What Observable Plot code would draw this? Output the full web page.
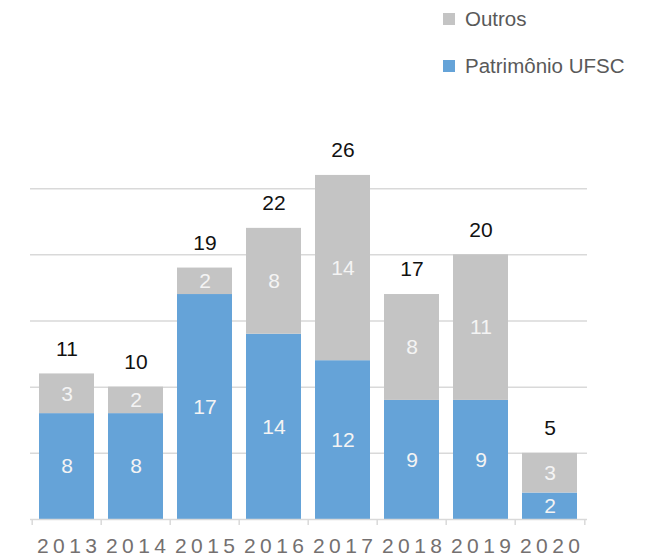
<!DOCTYPE html>
<html>
<head>
<meta charset="utf-8">
<script src="https://cdn.jsdelivr.net/npm/d3@7"></script>
<script src="https://cdn.jsdelivr.net/npm/@observablehq/plot@0.6"></script>
<style>
  html, body { margin: 0; padding: 0; background: #fff; }
  #wrap { position: relative; width: 658px; height: 559px; font-family: "Liberation Sans", Arial, sans-serif; }
  #legend { position: absolute; left: 443px; top: 5px; color: #595959; font-size: 20.5px; }
  .li { display: flex; align-items: center; height: 28px; margin-bottom: 19px; }
  .sw { width: 12px; height: 12px; margin-right: 10px; }
</style>
</head>
<body>
<div id="wrap"><div id="legend"></div></div>
<script>
const years = ["2013", "2014", "2015", "2016", "2017", "2018", "2019", "2020"];
const patrimonio = [8, 8, 17, 14, 12, 9, 9, 2];
const outros = [3, 2, 2, 8, 14, 8, 11, 3];
const seriesNames = ["Patrimônio UFSC", "Outros"];
const seriesColors = ["#65a3d8", "#c4c4c4"];
const gridTicks = [5, 10, 15, 20, 25];

const rows = [];
years.forEach((yr, i) => {
  const vals = [patrimonio[i], outros[i]];
  let base = 0;
  vals.forEach((v, s) => {
    rows.push({year: yr, series: seriesNames[s], value: v, y1: base, y2: base + v, mid: base + v / 2});
    base += v;
  });
});
const totals = years.map((yr, i) => ({year: yr, total: patrimonio[i] + outros[i]}));

const W = 658, H = 559, mL = 30, mR = 71;
const step = (W - mL - mR) / years.length;

const chart = Plot.plot({
  width: W, height: H,
  marginLeft: mL, marginRight: mR, marginTop: 122, marginBottom: 40,
  style: {fontFamily: "Liberation Sans, Arial, sans-serif", background: "#fff"},
  x: {domain: years, paddingInner: 0.2, paddingOuter: 0.1, axis: null},
  y: {domain: [0, 30], axis: null},
  color: {domain: seriesNames, range: seriesColors},
  marks: [
    Plot.ruleY(gridTicks, {stroke: "#d9d9d9", strokeWidth: 1.5}),
    Plot.barY(rows, {x: "year", y1: "y1", y2: "y2", fill: "series"}),
    Plot.ruleY([0], {stroke: "#d9d9d9", strokeWidth: 1.5}),
    Plot.ruleX(years, {x: d => d, y1: 0, y2: -0.45, dx: -step / 2, stroke: "#d9d9d9", strokeWidth: 1.5}),
    Plot.ruleX(years.slice(-1), {x: d => d, y1: 0, y2: -0.45, dx: step / 2, stroke: "#d9d9d9", strokeWidth: 1.5}),
    Plot.text(rows, {x: "year", y: "mid", text: d => String(d.value), fill: "#f4f4f4", fontSize: 21}),
    Plot.text(totals, {x: "year", y: "total", text: d => String(d.total), dy: -25, fill: "#111", fontSize: 21}),
    Plot.text(years, {x: d => d, y: 0, text: d => d, dy: 27, fill: "#747070", fontSize: 21})
  ]
});
// spread the year labels like the reference's letter-spaced axis text
d3.select(chart).selectAll("g")
  .filter(function () { return this.getAttribute("fill") === "#747070"; })
  .selectAll("text")
  .attr("textLength", 60)
  .attr("lengthAdjust", "spacing");

document.getElementById("wrap").appendChild(chart);
chart.style.position = "absolute";
chart.style.left = "0px";
chart.style.top = "0px";

const legend = document.getElementById("legend");
[1, 0].forEach(s => {
  const d = document.createElement("div");
  d.className = "li";
  const sw = document.createElement("span");
  sw.className = "sw";
  sw.style.background = seriesColors[s];
  const t = document.createElement("span");
  t.textContent = seriesNames[s];
  d.appendChild(sw); d.appendChild(t);
  legend.appendChild(d);
});
document.getElementById("wrap").appendChild(legend);
</script>
</body>
</html>
